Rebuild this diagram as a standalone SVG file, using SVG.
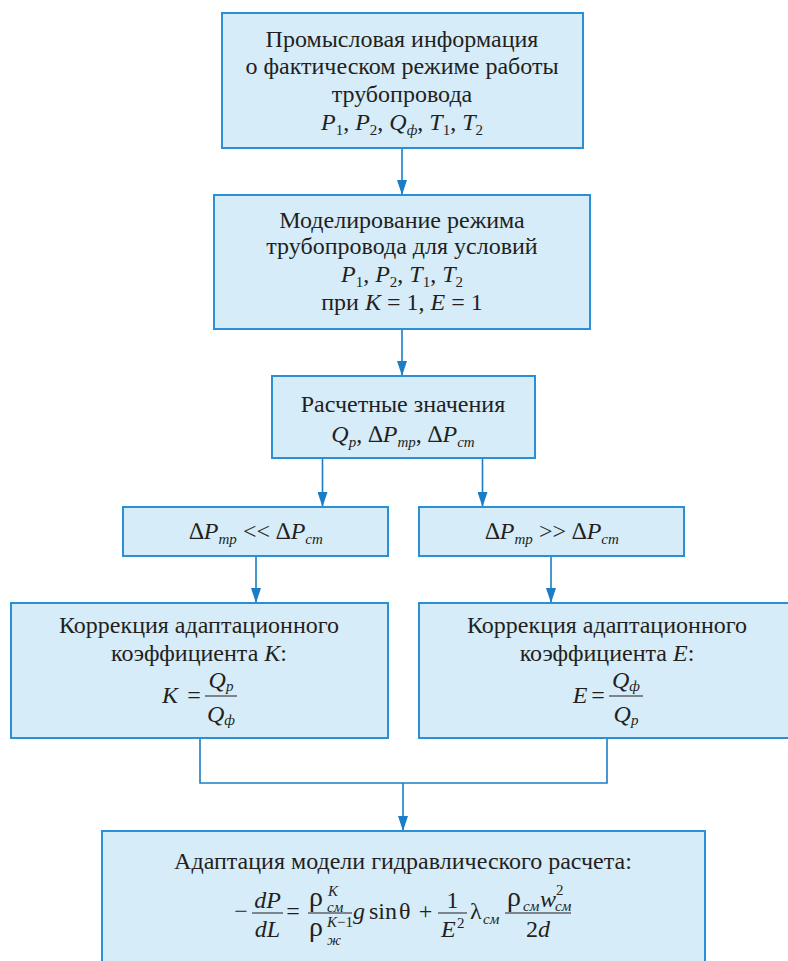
<svg xmlns="http://www.w3.org/2000/svg" width="788" height="961" viewBox="0 0 788 961" font-family="'Liberation Serif', 'DejaVu Serif', serif">
<style>
.box{fill:#d6ecf9;stroke:#2b8fd6;stroke-width:2}
text{font-family:'Liberation Serif','DejaVu Serif',serif}
.t{font-size:24px;fill:#231f20;text-anchor:middle}
.l{text-anchor:start}
.i{font-style:italic}
.s{font-size:15px}
.g{font-size:28px}
.c{fill:none;stroke:#1a7dc6;stroke-width:1.6}
.bar{stroke:#231f20;stroke-width:1}
</style>
<defs>
<marker id="arr" viewBox="0 0 15 10" refX="15" refY="5" markerWidth="15" markerHeight="10" markerUnits="userSpaceOnUse" orient="auto">
<path d="M0,0 L15,5 L0,10 z" fill="#1a7dc6"/>
</marker>
</defs>

<g id="connectors">
<path class="c" d="M402,148 V195" marker-end="url(#arr)"/>
<path class="c" d="M402,329 V376" marker-end="url(#arr)"/>
<path class="c" d="M322.5,458 V507" marker-end="url(#arr)"/>
<path class="c" d="M482.5,458 V507" marker-end="url(#arr)"/>
<path class="c" d="M256,556 V603" marker-end="url(#arr)"/>
<path class="c" d="M551,556 V603" marker-end="url(#arr)"/>
<path class="c" d="M200,738 V783 H607 V738"/>
<path class="c" d="M403,783 V831" marker-end="url(#arr)"/>
</g>

<g id="node1">
<rect class="box" x="222" y="13" width="361" height="135"/>
<text class="t" x="402" y="47">Промысловая информация</text>
<text class="t" x="402" y="74">о фактическом режиме работы</text>
<text class="t" x="402" y="102">трубопровода</text>
<text class="t" x="402" y="130"><tspan class="i">P</tspan><tspan class="s" dy="5">1</tspan><tspan dy="-5">, </tspan><tspan class="i">P</tspan><tspan class="s" dy="5">2</tspan><tspan dy="-5">, </tspan><tspan class="i">Q</tspan><tspan class="s i" dy="5">ф</tspan><tspan dy="-5">, </tspan><tspan class="i">T</tspan><tspan class="s" dy="5">1</tspan><tspan dy="-5">, </tspan><tspan class="i">T</tspan><tspan class="s" dy="5">2</tspan></text>
</g>

<g id="node2">
<rect class="box" x="214" y="195" width="376" height="134"/>
<text class="t" x="402" y="228">Моделирование режима</text>
<text class="t" x="402" y="254">трубопровода для условий</text>
<text class="t" x="402" y="282"><tspan class="i">P</tspan><tspan class="s" dy="5">1</tspan><tspan dy="-5">, </tspan><tspan class="i">P</tspan><tspan class="s" dy="5">2</tspan><tspan dy="-5">, </tspan><tspan class="i">T</tspan><tspan class="s" dy="5">1</tspan><tspan dy="-5">, </tspan><tspan class="i">T</tspan><tspan class="s" dy="5">2</tspan></text>
<text class="t" x="402" y="310">при <tspan class="i">K</tspan> = 1, <tspan class="i">E</tspan> = 1</text>
</g>

<g id="node3">
<rect class="box" x="272" y="376" width="263" height="82"/>
<text class="t" x="403" y="412">Расчетные значения</text>
<text class="t" x="403" y="442"><tspan class="i">Q</tspan><tspan class="s i" dy="5">р</tspan><tspan dy="-5">, ∆</tspan><tspan class="i">P</tspan><tspan class="s i" dy="5">тр</tspan><tspan dy="-5">, ∆</tspan><tspan class="i">P</tspan><tspan class="s i" dy="5">ст</tspan></text>
</g>

<g id="cond1">
<rect class="box" x="123" y="507" width="265" height="49"/>
<text class="t" x="256" y="539">∆<tspan class="i">P</tspan><tspan class="s i" dy="5">тр</tspan><tspan dy="-5"> &lt;&lt; ∆</tspan><tspan class="i">P</tspan><tspan class="s i" dy="5">ст</tspan></text>
</g>

<g id="cond2">
<rect class="box" x="419" y="507" width="265" height="49"/>
<text class="t" x="552" y="539">∆<tspan class="i">P</tspan><tspan class="s i" dy="5">тр</tspan><tspan dy="-5"> &gt;&gt; ∆</tspan><tspan class="i">P</tspan><tspan class="s i" dy="5">ст</tspan></text>
</g>

<g id="corrK">
<rect class="box" x="11" y="603" width="377" height="135"/>
<text class="t" x="199" y="633">Коррекция адаптационного</text>
<text class="t" x="199" y="661">коэффициента <tspan class="i">K</tspan>:</text>
<text class="t i" x="170" y="703">K</text>
<text class="t" x="194" y="703">=</text>
<line class="bar" x1="205" y1="696" x2="237" y2="696"/>
<text class="t" x="221" y="688"><tspan class="i">Q</tspan><tspan class="s i" dy="3">р</tspan></text>
<text class="t" x="221" y="722"><tspan class="i">Q</tspan><tspan class="s i" dy="3">ф</tspan></text>
</g>

<g id="corrE">
<rect class="box" x="419" y="603" width="380" height="135"/>
<text class="t" x="607" y="633">Коррекция адаптационного</text>
<text class="t" x="607" y="661">коэффициента <tspan class="i">E</tspan>:</text>
<text class="t i" x="580" y="703">E</text>
<text class="t" x="598" y="703">=</text>
<line class="bar" x1="609" y1="696" x2="643" y2="696"/>
<text class="t" x="626" y="688"><tspan class="i">Q</tspan><tspan class="s i" dy="3">ф</tspan></text>
<text class="t" x="626" y="722"><tspan class="i">Q</tspan><tspan class="s i" dy="3">р</tspan></text>
</g>

<g id="adapt">
<rect class="box" x="102" y="831" width="603" height="140"/>
<text class="t" x="403" y="869">Адаптация модели гидравлического расчета:</text>
<text class="t" x="241" y="919">−</text>
<line class="bar" x1="252" y1="913" x2="283" y2="913"/>
<text class="t i" x="267.5" y="908">dP</text>
<text class="t i" x="267.5" y="937">dL</text>
<text class="t" x="293" y="919">=</text>
<line class="bar" x1="308" y1="913" x2="352" y2="913"/>
<text class="t l g" x="309" y="906">ρ</text>
<text class="t l i s" x="328" y="896">K</text>
<text class="t l i s" x="327" y="912">см</text>
<text class="t l g" x="309" y="936">ρ</text>
<text class="t l s" x="327" y="927"><tspan class="i">K</tspan>−1</text>
<text class="t l i s" x="327" y="945">ж</text>
<text class="t l i" x="353" y="919">g</text>
<text class="t l" x="369" y="919">sin</text>
<text class="t l" x="399" y="919">θ</text>
<text class="t" x="425.5" y="919">+</text>
<line class="bar" x1="438" y1="913" x2="467" y2="913"/>
<text class="t" x="452.5" y="908">1</text>
<text class="t l i" x="441" y="937">E</text>
<text class="t l s" x="457" y="928">2</text>
<text class="t l" x="470" y="919">λ</text>
<text class="t l i s" x="483" y="924">см</text>
<line class="bar" x1="505" y1="913" x2="571" y2="913"/>
<text class="t l g" x="507" y="906">ρ</text>
<text class="t l i s" x="523" y="911">см</text>
<text class="t l i" x="540" y="907">w</text>
<text class="t l s" x="556" y="895">2</text>
<text class="t l i s" x="555" y="911">см</text>
<text class="t" x="538" y="937">2<tspan class="i">d</tspan></text>
</g>
</svg>
